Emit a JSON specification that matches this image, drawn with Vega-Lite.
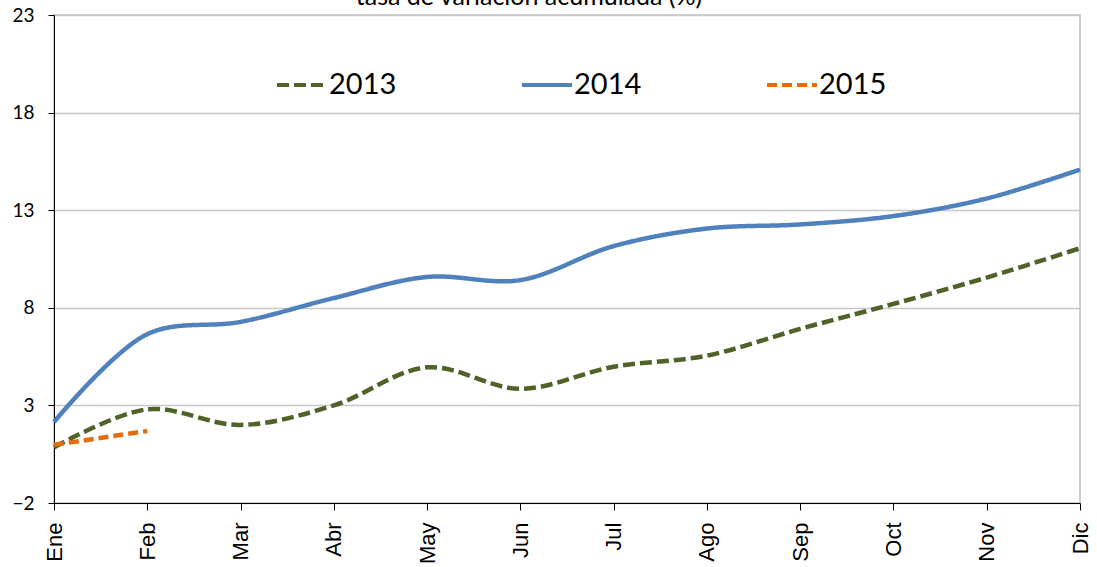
{
  "$schema": "https://vega.github.io/schema/vega-lite/v6.json",
  "width": 1026,
  "height": 488,
  "autosize": {"type": "none"},
  "padding": {"left": 54, "top": 15, "right": 17, "bottom": 64},
  "background": "white",
  "config": {
    "font": "Lato",
    "view": {"stroke": "#BFBFBF", "strokeWidth": 1.5},
    "axis": {"labelFont": "Lato", "labelColor": "#000000", "labelFontSize": 19, "domainColor": "#000000", "tickColor": "#000000", "tickSize": 7, "title": null}
  },
  "title": {
    "text": "tasa de variación acumulada  (%)",
    "font": "Lato",
    "fontSize": 25,
    "fontWeight": "normal",
    "color": "#000000",
    "anchor": "middle",
    "frame": "group",
    "baseline": "bottom",
    "offset": -29,
    "dx": -38
  },
  "data": {
    "values": [
      {"mes": "Ene", "serie": "2013", "valor": 0.85},
      {"mes": "Feb", "serie": "2013", "valor": 2.8},
      {"mes": "Mar", "serie": "2013", "valor": 2.0},
      {"mes": "Abr", "serie": "2013", "valor": 3.0},
      {"mes": "May", "serie": "2013", "valor": 4.95},
      {"mes": "Jun", "serie": "2013", "valor": 3.85},
      {"mes": "Jul", "serie": "2013", "valor": 4.98},
      {"mes": "Ago", "serie": "2013", "valor": 5.55},
      {"mes": "Sep", "serie": "2013", "valor": 6.92},
      {"mes": "Oct", "serie": "2013", "valor": 8.2},
      {"mes": "Nov", "serie": "2013", "valor": 9.55},
      {"mes": "Dic", "serie": "2013", "valor": 11.05},
      {"mes": "Ene", "serie": "2014", "valor": 2.15},
      {"mes": "Feb", "serie": "2014", "valor": 6.65},
      {"mes": "Mar", "serie": "2014", "valor": 7.28},
      {"mes": "Abr", "serie": "2014", "valor": 8.5},
      {"mes": "May", "serie": "2014", "valor": 9.58},
      {"mes": "Jun", "serie": "2014", "valor": 9.42},
      {"mes": "Jul", "serie": "2014", "valor": 11.16},
      {"mes": "Ago", "serie": "2014", "valor": 12.06},
      {"mes": "Sep", "serie": "2014", "valor": 12.27},
      {"mes": "Oct", "serie": "2014", "valor": 12.7},
      {"mes": "Nov", "serie": "2014", "valor": 13.6},
      {"mes": "Dic", "serie": "2014", "valor": 15.08},
      {"mes": "Ene", "serie": "2015", "valor": 0.98},
      {"mes": "Feb", "serie": "2015", "valor": 1.69}
    ]
  },
  "mark": {"type": "line", "interpolate": "catmull-rom", "strokeWidth": 4.5},
  "encoding": {
    "x": {
      "field": "mes",
      "type": "nominal",
      "sort": ["Ene", "Feb", "Mar", "Abr", "May", "Jun", "Jul", "Ago", "Sep", "Oct", "Nov", "Dic"],
      "scale": {"type": "point", "padding": 0},
      "axis": {"labelAngle": -90, "labelAlign": "right", "labelBaseline": "middle", "labelPadding": 12, "grid": false, "labelFont": "Liberation Sans", "labelFontSize": 22}
    },
    "y": {
      "field": "valor",
      "type": "quantitative",
      "scale": {"domain": [-2, 23], "nice": false, "zero": false},
      "axis": {"values": [-2, 3, 8, 13, 18, 23], "labelPadding": 14, "tickSize": 6, "grid": true, "gridColor": "#C8C8C8", "gridWidth": 1.5}
    },
    "color": {
      "field": "serie",
      "type": "nominal",
      "scale": {"domain": ["2013", "2014", "2015"], "range": ["#4F6228", "#4F81BD", "#E46C0A"]},
      "legend": {
        "orient": "none",
        "direction": "horizontal",
        "legendX": 221,
        "legendY": 43,
        "title": null,
        "symbolType": "stroke",
        "symbolSize": 2500,
        "symbolStrokeWidth": 4,
        "labelFontSize": 29,
        "labelFont": "Lato",
        "labelColor": "#000000",
        "labelOffset": 0,
        "columnPadding": 117
      }
    },
    "strokeDash": {
      "field": "serie",
      "type": "nominal",
      "scale": {"domain": ["2013", "2014", "2015"], "range": [[12, 5], [1, 0], [10, 5]]},
      "legend": null
    }
  }
}
